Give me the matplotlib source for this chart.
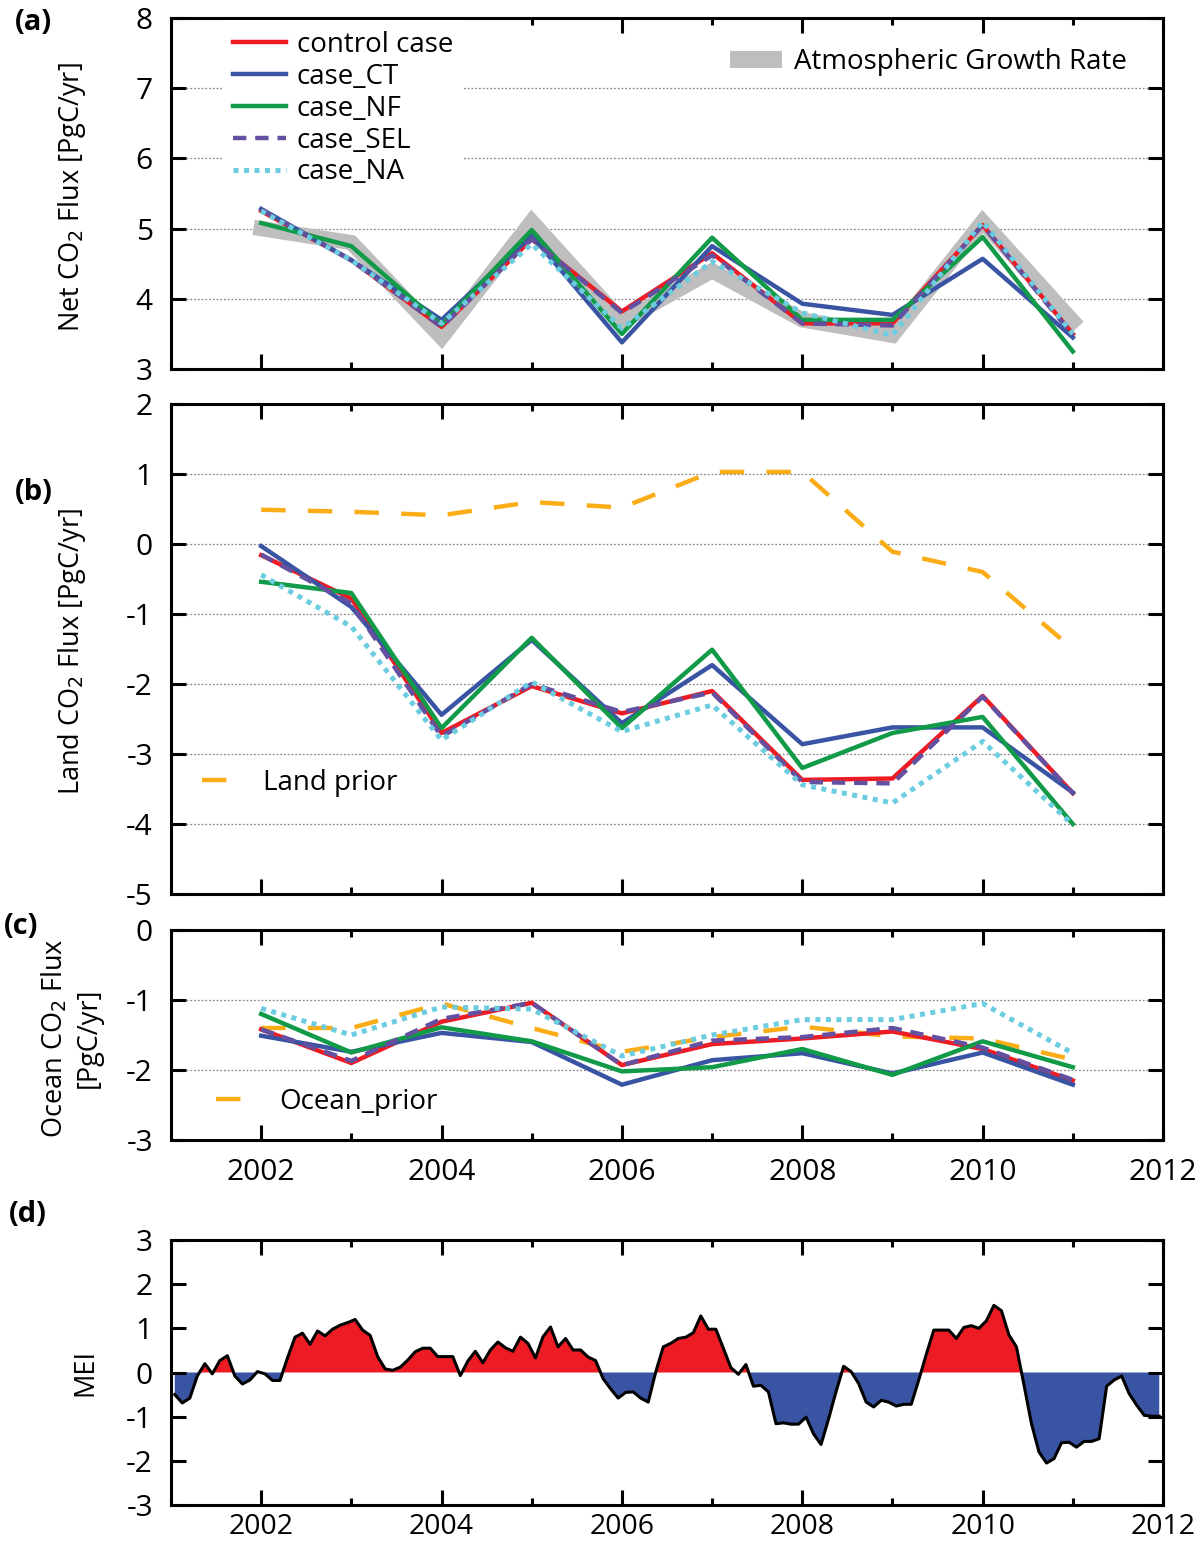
import numpy as np
import matplotlib
matplotlib.use("Agg")
import matplotlib.pyplot as plt
from matplotlib.lines import Line2D
from matplotlib.patches import Patch

plt.rcParams['font.family'] = ['Open Sans', 'DejaVu Sans']
plt.rcParams['axes.unicode_minus'] = False

# ---------------- data ----------------
years = [2002, 2003, 2004, 2005, 2006, 2007, 2008, 2009, 2010, 2011]

# (a) net flux
atm_growth = [5.00, 4.80, 3.45, 5.10, 3.68, 4.40, 3.70, 3.48, 5.10, 3.68]
net_control = [5.25, 4.55, 3.60, 4.85, 3.82, 4.65, 3.65, 3.65, 5.05, 3.50]
net_ct = [5.28, 4.55, 3.70, 4.90, 3.38, 4.75, 3.93, 3.77, 4.57, 3.45]
net_nf = [5.08, 4.75, 3.63, 4.98, 3.50, 4.87, 3.70, 3.70, 4.88, 3.25]
net_sel = [5.27, 4.55, 3.60, 4.85, 3.80, 4.62, 3.65, 3.62, 5.05, 3.48]
net_na = [5.25, 4.55, 3.65, 4.78, 3.58, 4.53, 3.80, 3.48, 5.10, 3.50]

# (b) land flux
land_prior = [0.49, 0.46, 0.41, 0.60, 0.52, 1.03, 1.03, -0.11, -0.40, -1.50]
land_control = [-0.16, -0.78, -2.70, -2.03, -2.42, -2.10, -3.37, -3.35, -2.17, -3.56]
land_ct = [-0.03, -0.90, -2.44, -1.37, -2.56, -1.73, -2.86, -2.62, -2.62, -3.55]
land_nf = [-0.54, -0.70, -2.63, -1.34, -2.63, -1.51, -3.20, -2.70, -2.47, -4.00]
land_sel = [-0.15, -0.85, -2.75, -2.00, -2.40, -2.12, -3.40, -3.42, -2.18, -3.56]
land_na = [-0.44, -1.18, -2.80, -1.97, -2.68, -2.30, -3.44, -3.70, -2.82, -4.01]

# (c) ocean flux
ocean_prior = [-1.40, -1.40, -1.05, -1.40, -1.74, -1.53, -1.38, -1.52, -1.55, -1.85]
ocean_control = [-1.42, -1.90, -1.31, -1.04, -1.93, -1.63, -1.55, -1.45, -1.70, -2.15]
ocean_ct = [-1.51, -1.74, -1.47, -1.60, -2.21, -1.86, -1.76, -2.05, -1.75, -2.21]
ocean_nf = [-1.20, -1.75, -1.39, -1.59, -2.02, -1.96, -1.70, -2.07, -1.59, -1.96]
ocean_sel = [-1.42, -1.87, -1.27, -1.04, -1.93, -1.58, -1.53, -1.40, -1.68, -2.14]
ocean_na = [-1.12, -1.50, -1.10, -1.13, -1.80, -1.50, -1.28, -1.28, -1.05, -1.76]

# (d) MEI, monthly 2001-2011
mei_2001 = [-0.50, -0.69, -0.58, -0.08, 0.20, -0.03, 0.27, 0.38, -0.08, -0.26, -0.17, 0.02]
mei_2002 = [-0.03, -0.18, -0.18, 0.33, 0.80, 0.89, 0.64, 0.94, 0.83, 0.98, 1.07, 1.13]
mei_2003 = [1.20, 0.96, 0.84, 0.36, 0.08, 0.05, 0.12, 0.28, 0.47, 0.55, 0.55, 0.36]
mei_2004 = [0.36, 0.36, -0.07, 0.26, 0.48, 0.22, 0.51, 0.69, 0.56, 0.48, 0.80, 0.66]
mei_2005 = [0.33, 0.81, 1.03, 0.58, 0.77, 0.51, 0.51, 0.35, 0.27, -0.14, -0.37, -0.58]
mei_2006 = [-0.45, -0.44, -0.58, -0.67, 0.01, 0.58, 0.66, 0.77, 0.80, 0.90, 1.28, 0.98]
mei_2007 = [0.98, 0.55, 0.11, -0.04, 0.18, -0.31, -0.29, -0.44, -1.16, -1.14, -1.17, -1.17]
mei_2008 = [-1.01, -1.39, -1.63, -1.05, -0.43, 0.14, 0.02, -0.25, -0.67, -0.78, -0.63, -0.67]
mei_2009 = [-0.76, -0.72, -0.72, -0.17, 0.41, 0.96, 0.96, 0.96, 0.77, 1.02, 1.06, 1.00]
mei_2010 = [1.17, 1.52, 1.40, 0.85, 0.58, -0.28, -1.16, -1.80, -2.05, -1.95, -1.59, -1.58]
mei_2011 = [-1.69, -1.56, -1.56, -1.50, -0.31, -0.17, -0.08, -0.48, -0.74, -0.97, -0.99, -0.99]
mei_years = list(range(2001, 2012))

case_labels = ['control case', 'case_CT', 'case_NF', 'case_SEL', 'case_NA']

# ---------------- style ----------------
RED = '#ed1c24'
BLUE = '#3a54a4'
GREEN = '#119a48'
PURPLE = '#6450a0'
CYAN = '#6ccde0'
ORANGE = '#fbad18'
GRAY = '#bebebe'

W, H = 1200, 1544
fig = plt.figure(figsize=(W / 100, H / 100), dpi=100)

def px_axes(left, top, right, bottom):
    return fig.add_axes([left / W, 1 - bottom / H, (right - left) / W, (bottom - top) / H])

ax_a = px_axes(171, 18, 1163, 369)
ax_b = px_axes(171, 404, 1163, 894)
ax_c = px_axes(171, 930, 1163, 1140)
ax_d = px_axes(171, 1240, 1163, 1505)

TICK_FS = 21.5
LEG_FS = 20
LAB_FS = 19.5

def style_axes(ax, ylim, grid=True, xlabels=False, xpad=13):
    ax.set_xlim(2001, 2012)
    ax.set_ylim(*ylim)
    ax.set_xticks(range(2002, 2013, 2))
    ax.set_xticks(range(2001, 2013), minor=True)
    ax.set_yticks(range(ylim[0], ylim[1] + 1))
    ax.tick_params(which='both', direction='in', top=True, right=True,
                   width=2.2, labelsize=TICK_FS)
    ax.tick_params(axis='y', which='both', pad=13)
    ax.tick_params(axis='x', which='both', pad=xpad)
    ax.tick_params(which='major', length=11)
    ax.tick_params(which='minor', length=5)
    for s in ax.spines.values():
        s.set_linewidth(2.2)
    if not xlabels:
        ax.tick_params(axis='x', which='both', labelbottom=False)
    if grid:
        ax.yaxis.grid(True, linestyle=(0, (1.5, 1.5)), color='#888888', linewidth=0.9)
        ax.set_axisbelow(True)
        gl = ax.yaxis.get_gridlines()
        for g, t in zip(gl, ax.get_yticks()):
            if t in ylim:
                g.set_visible(False)

LW = 3.2
def plot_cases(ax, ctrl, ct, nf, sel, na):
    ax.plot(years, ctrl, color=RED, lw=LW, zorder=3, label=case_labels[0])
    ax.plot(years, ct, color=BLUE, lw=LW, zorder=3, label=case_labels[1])
    ax.plot(years, nf, color=GREEN, lw=LW, zorder=3, label=case_labels[2])
    ax.plot(years, sel, color=PURPLE, lw=LW, ls=(0, (3, 2)), zorder=4, label=case_labels[3])
    ax.plot(years, na, color=CYAN, lw=3.6, ls=(0, (1, 1.1)), zorder=5, label=case_labels[4])

# ---- (a)
style_axes(ax_a, (3, 8))
ax_a.plot(years, atm_growth, color=GRAY, lw=11, solid_joinstyle='miter', zorder=2)
plot_cases(ax_a, net_control, net_ct, net_nf, net_sel, net_na)
leg1 = ax_a.legend(loc='upper left', bbox_to_anchor=(0.0514, 0.995), fontsize=LEG_FS,
                   handlelength=1.9, handletextpad=0.4, labelspacing=0.14,
                   borderpad=0.4, borderaxespad=0, frameon=True, facecolor='white',
                   edgecolor='none', framealpha=1, fancybox=False)
leg1.set_zorder(6)
ax_a.add_artist(leg1)
leg2 = ax_a.legend(handles=[Patch(facecolor=GRAY, edgecolor='none', label='Atmospheric Growth Rate')],
                   loc='upper left', bbox_to_anchor=(0.552, 0.945), fontsize=LEG_FS,
                   handlelength=1.9, handleheight=0.55, handletextpad=0.43,
                   borderpad=0.4, borderaxespad=0, frameon=False)

# ---- (b)
style_axes(ax_b, (-5, 2))
ax_b.plot(years, land_prior, color=ORANGE, lw=LW, ls=(0, (5.5, 5)), zorder=3, label='Land prior')
plot_cases(ax_b, land_control, land_ct, land_nf, land_sel, land_na)
ax_b.legend(handles=[Line2D([], [], color=ORANGE, lw=LW, ls=(0, (5.5, 5)))], labels=['Land prior'],
            loc='upper left', bbox_to_anchor=(0.02, 0.2776), fontsize=LEG_FS,
            handlelength=0.9, handletextpad=1.3, borderpad=0.4, borderaxespad=0, frameon=False)

# ---- (c)
style_axes(ax_c, (-3, 0), xlabels=True)
ax_c.plot(years, ocean_prior, color=ORANGE, lw=LW, ls=(0, (5.5, 5)), zorder=3)
plot_cases(ax_c, ocean_control, ocean_ct, ocean_nf, ocean_sel, ocean_na)
ax_c.legend(handles=[Line2D([], [], color=ORANGE, lw=LW, ls=(0, (5.5, 5)))], labels=['Ocean_prior'],
            loc='upper left', bbox_to_anchor=(0.034, 0.30), fontsize=LEG_FS,
            handlelength=0.95, handletextpad=1.33, borderpad=0.4, borderaxespad=0, frameon=False)

# ---- (d)
style_axes(ax_d, (-3, 3), grid=False, xlabels=True, xpad=6)
ax_d.tick_params(axis='x', labelsize=20.5)
mei = np.concatenate([mei_2001, mei_2002, mei_2003, mei_2004, mei_2005, mei_2006,
                      mei_2007, mei_2008, mei_2009, mei_2010, mei_2011])
t = np.array([y + (m + 0.5) / 12 for y in mei_years for m in range(12)])
ax_d.fill_between(t, 0, mei, where=mei >= 0, interpolate=True, color=RED, lw=0)
ax_d.fill_between(t, 0, mei, where=mei <= 0, interpolate=True, color=BLUE, lw=0)
ax_d.plot(t, mei, color='black', lw=2.2, zorder=4)

# ---- labels
def ftext(x, y, s, **kw):
    fig.text(x / W, 1 - y / H, s, **kw)

ftext(72, 197, 'Net CO$_2$ Flux [PgC/yr]', rotation=90, ha='center', va='center', fontsize=LAB_FS)
ftext(72, 652, 'Land CO$_2$ Flux [PgC/yr]', rotation=90, ha='center', va='center', fontsize=LAB_FS)
ftext(71, 1038, 'Ocean CO$_2$ Flux\n[PgC/yr]', rotation=90, ha='center', va='center',
      multialignment='center', linespacing=1.25, fontsize=LAB_FS)
ftext(85, 1372, 'MEI', rotation=90, ha='center', va='center', fontsize=LAB_FS)

for (x, y, s) in [(33, 22, '(a)'), (34, 493, '(b)'), (21, 926, '(c)'), (28, 1214, '(d)')]:
    ftext(x, y, s, ha='center', va='center', fontsize=21, fontweight='bold')

fig.savefig('out.png', dpi=100)
